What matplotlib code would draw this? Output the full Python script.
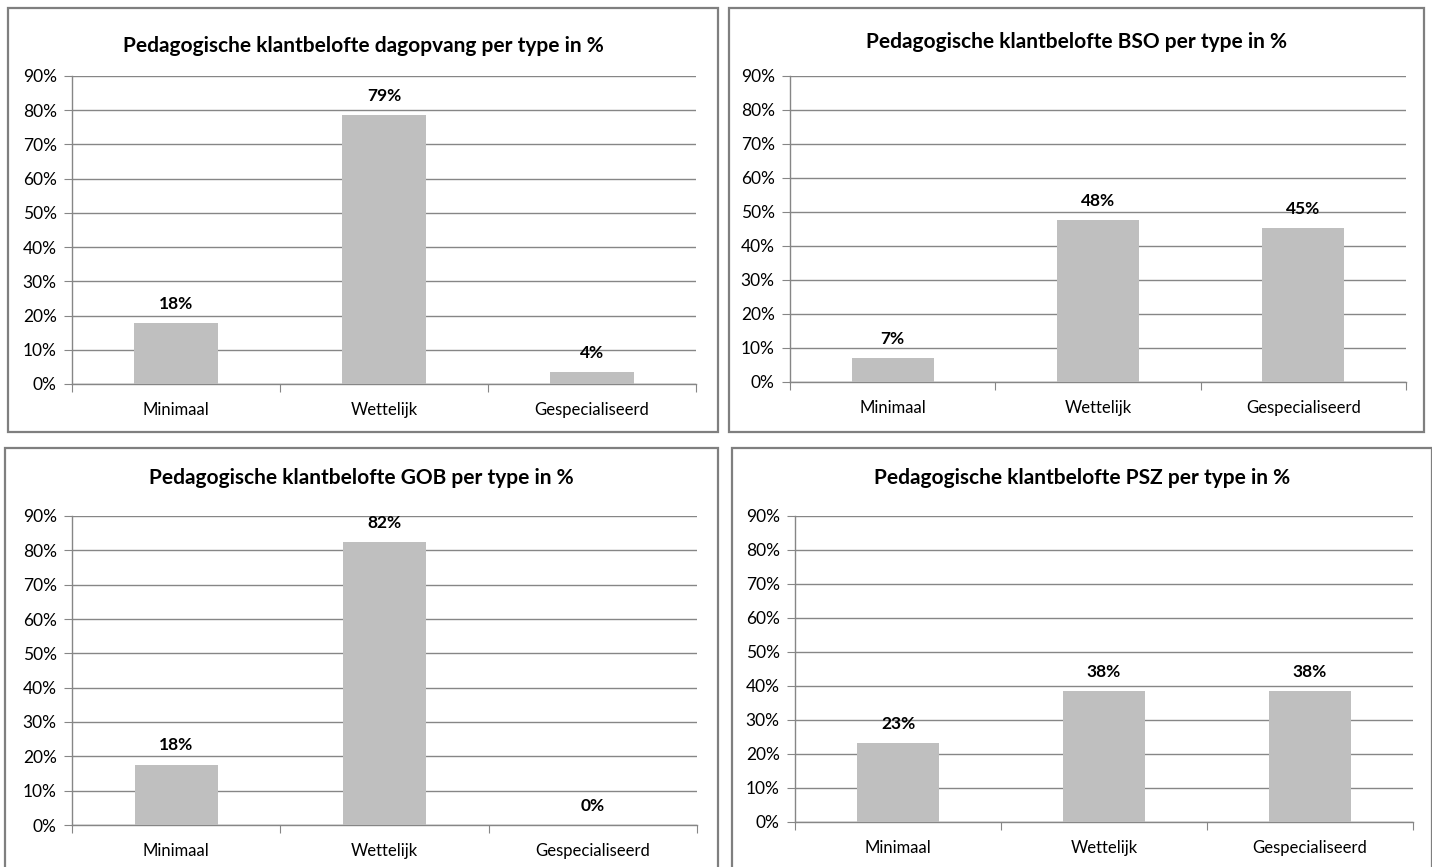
import matplotlib.pyplot as plt
from matplotlib.patches import Rectangle
from matplotlib.ticker import FuncFormatter

plt.rcParams['font.family'] = ['Lato', 'DejaVu Sans']

categories = ['Minimaal', 'Wettelijk', 'Gespecialiseerd']

titles = [
    'Pedagogische klantbelofte dagopvang per type in %',
    'Pedagogische klantbelofte BSO per type in %',
    'Pedagogische klantbelofte GOB per type in %',
    'Pedagogische klantbelofte PSZ per type in %',
]

dagopvang = [17.9, 78.6, 3.6]
bso = [7.1, 47.6, 45.2]
gob = [17.6, 82.4, 0.0]
psz = [23.1, 38.5, 38.5]

W, H = 1432, 867
fig = plt.figure(figsize=(W / 100, H / 100), dpi=100)

def px_box(x0, y0, x1, y1):
    return [x0 / W, 1 - y1 / H, (x1 - x0) / W, (y1 - y0) / H]

# panel frame, plot area, title y (pixels)
panels = [
    ((8, 8, 718, 432), (72, 76, 696, 384), 46),
    ((729, 8, 1424, 432), (790, 76, 1406, 382), 42),
    ((5, 448, 718, 880), (72, 516, 697, 825), 478),
    ((732, 448, 1432, 880), (795, 516, 1413, 822), 478),
]

grey = '#868686'
bar_col = '#BFBFBF'

for (frame, area, ty), title, vals in zip(panels, titles, [dagopvang, bso, gob, psz]):
    fig.patches.append(Rectangle((frame[0] / W, 1 - frame[3] / H),
                                 (frame[2] - frame[0]) / W, (frame[3] - frame[1]) / H,
                                 transform=fig.transFigure, fill=False,
                                 edgecolor='#7f7f7f', lw=1.6))
    fig.text((frame[0] + frame[2]) / 2 / W, 1 - ty / H, title,
             ha='center', va='center', fontsize=15, fontweight='bold')

    ax = fig.add_axes(px_box(*area))
    x = range(len(categories))
    bars = ax.bar(x, vals, width=0.4, color=bar_col, zorder=3)
    for b, v in zip(bars, vals):
        ax.annotate(f'{round(v):.0f}%', (b.get_x() + b.get_width() / 2, v),
                    xytext=(0, 8), textcoords='offset points',
                    ha='center', va='bottom', fontsize=12.5, fontweight='bold')

    ax.set_xlim(-0.5, 2.5)
    ax.set_ylim(0, 90)
    ax.set_yticks(range(0, 91, 10))
    ax.yaxis.set_major_formatter(FuncFormatter(lambda v, p: f'{v:.0f}%'))
    ax.grid(axis='y', color=grey, lw=1, zorder=0)

    ax.set_xticks([-0.5, 0.5, 1.5, 2.5])
    ax.set_xticklabels([])
    ax.set_xticks(list(x), minor=True)
    ax.set_xticklabels(categories, minor=True)
    ax.tick_params(axis='x', which='major', length=6, color=grey, direction='out')
    ax.tick_params(axis='x', which='minor', length=0, pad=13, labelsize=12)
    ax.tick_params(axis='y', length=6, color=grey, direction='out', labelsize=12.5, pad=5)

    for s in ['top', 'right']:
        ax.spines[s].set_visible(False)
    for s in ['left', 'bottom']:
        ax.spines[s].set_color(grey)
        ax.spines[s].set_linewidth(1)

fig.savefig('out.png', dpi=100, facecolor='white')
